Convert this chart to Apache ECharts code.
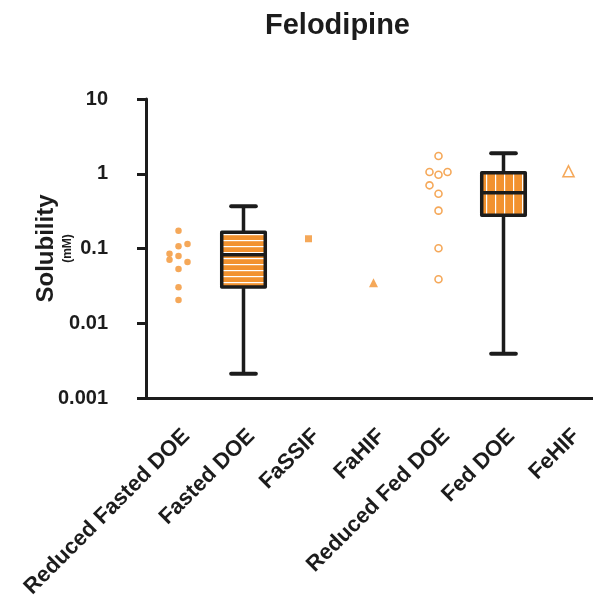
<!DOCTYPE html>
<html>
<head>
<meta charset="utf-8">
<script src="https://cdn.jsdelivr.net/npm/echarts@6/dist/echarts.min.js"></script>
<style>html,body{margin:0;padding:0;background:#fff;}#c{width:593px;height:596px;}</style>
</head>
<body>
<div id="c"></div>
<script>
// ---- data ----
const categories = ['Reduced Fasted DOE','Fasted DOE','FaSSIF','FaHIF','Reduced Fed DOE','Fed DOE','FeHIF'];
const reducedFastedDOE = [0.173, 0.107, 0.115, 0.0851, 0.0708, 0.0795, 0.0659, 0.0532, 0.0303, 0.0205];
const fastedDOEBox = [0.00211, 0.0305, 0.0826, 0.165, 0.367]; // min, Q1, median, Q3, max
const fassif = [0.135];
const fahif = [0.0348];
const reducedFedDOE = [1.73, 1.055, 0.970, 1.055, 0.700, 0.541, 0.321, 0.1007, 0.0387];
const fedDOEBox = [0.00392, 0.278, 0.557, 1.03, 1.88];
const fehif = [1.08];
const yTickLabels = ['0.001','0.01','0.1','1','10'];

// ---- layout / style ----
const ORANGE = '#F2922F';
const DARK = '#1c1c1c';
const FONT = 'Liberation Sans, Arial, sans-serif';
const rfJitterCols = [0, 0, 1, -1, -1, 0, 1, 0, 0, 0];
const rfedJitterCols = [0, -1, 0, 1, -1, 0, 0, 0, 0];
const JITTER_PX = 9;

function stripePattern(horizontal) {
  const c = document.createElement('canvas');
  if (horizontal) { c.width = 4; c.height = 6; } else { c.width = 9; c.height = 4; }
  const g = c.getContext('2d');
  g.fillStyle = ORANGE; g.fillRect(0, 0, c.width, c.height);
  g.fillStyle = '#ffffff';
  if (horizontal) g.fillRect(0, 0, c.width, 1.2); else g.fillRect(0, 0, 1.2, c.height);
  return { image: c, repeat: 'repeat' };
}
const boxPatterns = [stripePattern(true), stripePattern(false)];

const chart = echarts.init(document.getElementById('c'), null, { renderer: 'canvas' });

function renderBox(params, api) {
  const ci = api.value(0);
  const vals = [api.value(1), api.value(2), api.value(3), api.value(4), api.value(5)];
  const pts = vals.map(v => api.coord([ci, v]));
  const band = api.coord([1, vals[2]])[0] - api.coord([0, vals[2]])[0];
  const x = pts[0][0];
  const bw = band * 0.67, cw = band * 0.38;
  const stroke = { stroke: DARK, lineWidth: 3.5 };
  return {
    type: 'group',
    children: [
      { type: 'line', shape: { x1: x, y1: pts[4][1], x2: x, y2: pts[0][1] }, style: { stroke: DARK, lineWidth: 3.5 } },
      { type: 'line', shape: { x1: x - cw / 2, y1: pts[4][1], x2: x + cw / 2, y2: pts[4][1] }, style: { stroke: DARK, lineWidth: 4, lineCap: 'round' } },
      { type: 'line', shape: { x1: x - cw / 2, y1: pts[0][1], x2: x + cw / 2, y2: pts[0][1] }, style: { stroke: DARK, lineWidth: 4, lineCap: 'round' } },
      { type: 'rect', shape: { x: x - bw / 2, y: pts[3][1], width: bw, height: pts[1][1] - pts[3][1] },
        style: Object.assign({ fill: boxPatterns[params.dataIndex], lineJoin: 'round' }, stroke) },
      { type: 'line', shape: { x1: x - bw / 2, y1: pts[2][1], x2: x + bw / 2, y2: pts[2][1] }, style: stroke }
    ]
  };
}

const option = {
  animation: false,
  backgroundColor: '#ffffff',
  title: {
    text: 'Felodipine', left: 265, top: 11, padding: 0,
    textStyle: { fontFamily: FONT, fontWeight: 'bold', fontSize: 29, color: DARK }
  },
  grid: { left: 146, top: 99, bottom: 198, right: -8, containLabel: false, outerBoundsMode: 'none' },
  xAxis: {
    type: 'category', data: categories, boundaryGap: true,
    axisLine: { lineStyle: { color: DARK, width: 3 } },
    axisTick: { alignWithLabel: true, length: 11, lineStyle: { color: DARK, width: 3 } },
    axisLabel: { interval: 0, rotate: 45, margin: 27, verticalAlign: 'top', hideOverlap: false, fontFamily: FONT, fontWeight: 'bold', fontSize: 22, color: DARK },
    splitLine: { show: false }
  },
  yAxis: {
    type: 'log', logBase: 10, min: 0.001, max: 10,
    axisLine: { show: true, lineStyle: { color: DARK, width: 3 } },
    axisTick: { show: true, length: 9, lineStyle: { color: DARK, width: 3 } },
    minorTick: { show: false },
    splitLine: { show: false },
    axisLabel: {
      margin: 38, fontFamily: FONT, fontWeight: 'bold', fontSize: 20, color: DARK,
      formatter: v => yTickLabels[Math.round(Math.log10(v)) + 3]
    },
    name: '{a|Solubility}\n{b|(mM)}',
    nameLocation: 'middle', nameRotate: 90, nameGap: 70, nameMoveOverlap: false,
    nameTextStyle: {
      rich: {
        a: { fontFamily: FONT, fontWeight: 'bold', fontSize: 24, lineHeight: 28, color: DARK },
        b: { fontFamily: FONT, fontWeight: 'bold', fontSize: 12, lineHeight: 16, color: DARK }
      }
    }
  },
  series: [
    {
      type: 'custom', renderItem: renderBox,
      encode: { x: 0, y: [1, 2, 3, 4, 5] },
      data: [[1].concat(fastedDOEBox), [5].concat(fedDOEBox)],
      z: 2
    },
    {
      type: 'scatter', symbol: 'circle', symbolSize: 6.5,
      itemStyle: { color: ORANGE },
      data: reducedFastedDOE.map((v, i) => ({ value: [0, v], symbolOffset: [rfJitterCols[i] * JITTER_PX, 0] })),
      z: 3
    },
    {
      type: 'scatter', symbol: 'rect', symbolSize: 7,
      itemStyle: { color: ORANGE },
      data: fassif.map(v => [2, v]), z: 3
    },
    {
      type: 'scatter', symbol: 'triangle', symbolSize: 9,
      itemStyle: { color: ORANGE },
      data: fahif.map(v => [3, v]), z: 3
    },
    {
      type: 'scatter', symbol: 'circle', symbolSize: 7,
      itemStyle: { color: '#ffffff', borderColor: ORANGE, borderWidth: 1.6 },
      data: reducedFedDOE.map((v, i) => ({ value: [4, v], symbolOffset: [rfedJitterCols[i] * JITTER_PX, 0] })),
      z: 3
    },
    {
      type: 'scatter', symbol: 'triangle', symbolSize: 11,
      itemStyle: { color: '#ffffff', borderColor: ORANGE, borderWidth: 1.6 },
      data: fehif.map(v => [6, v]), z: 3
    }
  ]
};
chart.setOption(option);
</script>
</body>
</html>
